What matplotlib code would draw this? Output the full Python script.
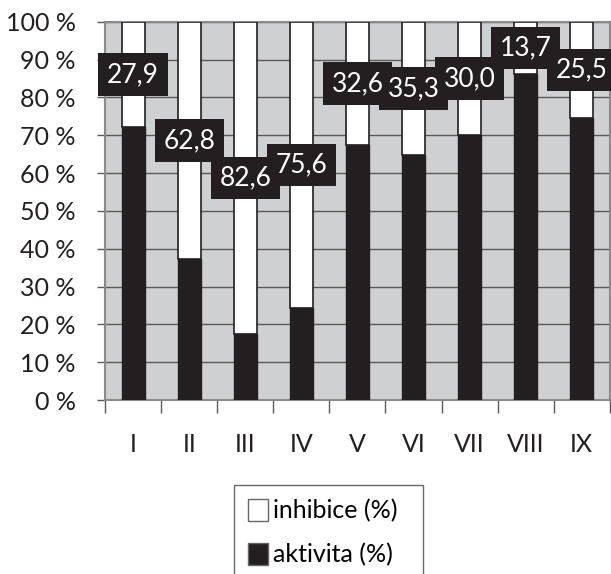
import numpy as np
import matplotlib.pyplot as plt
from matplotlib.patches import Patch

plt.rcParams['font.family'] = ['Lato', 'DejaVu Sans']

# ================================
# DATA
# ================================
categories = ['I', 'II', 'III', 'IV', 'V', 'VI', 'VII', 'VIII', 'IX']
inhibice = [27.9, 62.8, 82.6, 75.6, 32.6, 35.3, 30.0, 13.7, 25.5]
aktivita = [100 - v for v in inhibice]
label_texts = ['27,9', '62,8', '82,6', '75,6', '32,6', '35,3', '30,0', '13,7', '25,5']

DARK = '#231f20'
BG = '#cfd0d2'
GRID = '#5a5a5a'

fig = plt.figure(figsize=(6.11, 5.74), dpi=100)
ax = fig.add_axes([0.172, 0.303, 0.826, 0.659])
ax.set_facecolor(BG)

x = np.arange(len(categories))
w = 0.41

ax.bar(x, aktivita, w, color=DARK, edgecolor=DARK, linewidth=1, zorder=3)
ax.bar(x, inhibice, w, bottom=aktivita, color='white', edgecolor=DARK,
       linewidth=1.2, zorder=3)

# labels in the middle of the inhibice part: boxes first, texts on top
for xi, a, v, t in zip(x, aktivita, inhibice, label_texts):
    ax.text(xi, a + v / 2, t, ha='center', va='center', color=DARK,
            fontsize=19, zorder=5, alpha=0,
            bbox=dict(boxstyle='square,pad=0.33', fc=DARK, ec='none', alpha=1))
for xi, a, v, t in zip(x, aktivita, inhibice, label_texts):
    ax.text(xi, a + v / 2, t, ha='center', va='center', color='white',
            fontsize=19, zorder=6)

ax.set_xlim(-0.5, len(categories) - 0.5)
ax.set_ylim(0, 100)
ax.set_yticks(np.arange(0, 101, 10))
ax.set_yticklabels([f'{v} %' for v in range(0, 101, 10)], fontsize=18, color=DARK)
ax.yaxis.grid(True, color=GRID, linewidth=1, zorder=1)
ax.set_axisbelow(True)

ax.set_xticks(x)
ax.set_xticklabels(categories, fontsize=18, color=DARK)
ax.set_xticks(np.arange(-0.5, len(categories), 1), minor=True)
ax.tick_params(axis='x', which='major', length=0, pad=24)
ax.tick_params(axis='x', which='minor', length=9, width=1, color=GRID)
ax.tick_params(axis='y', length=6, width=1, color=GRID, pad=15)

for side in ['top', 'right', 'left', 'bottom']:
    ax.spines[side].set_color('#8a8a8a')
    ax.spines[side].set_linewidth(1.5)

handles = [Patch(facecolor='white', edgecolor='#666666', linewidth=1),
           Patch(facecolor=DARK, edgecolor='#666666', linewidth=1)]
leg = fig.legend(handles, ['inhibice (%)', 'aktivita (%)'], loc='upper left',
                 bbox_to_anchor=(234 / 611, 1 - 485 / 574, 189 / 611, 0),
                 mode='expand', fontsize=18,
                 frameon=True, fancybox=False, edgecolor='#444444',
                 handlelength=0.8, handleheight=1.0, handletextpad=0.2,
                 labelspacing=0.8, borderpad=0.55, borderaxespad=0)
leg.get_frame().set_linewidth(1)

fig.savefig('out.png', dpi=100)
